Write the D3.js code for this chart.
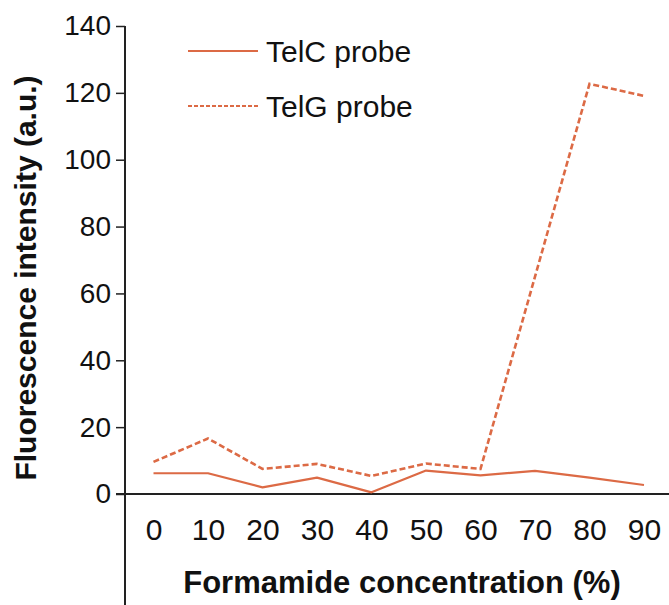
<!DOCTYPE html>
<html>
<head>
<meta charset="utf-8">
<script src="https://cdn.jsdelivr.net/npm/d3@7"></script>
<style>
  body { margin: 0; background: #fff; }
  svg { display: block; font-family: "Liberation Sans", Arial, sans-serif; }
</style>
</head>
<body>
<svg id="chart" width="669" height="605"></svg>
<script>
// formamide concentration (%)
const concentrations = [0, 10, 20, 30, 40, 50, 60, 70, 80, 90];
// fluorescence intensity (a.u.)
const telC = [6.2, 6.2, 2.0, 4.9, 0.5, 7.0, 5.6, 6.9, 4.9, 2.7];
const telG = [9.6, 16.6, 7.5, 9.0, 5.4, 9.1, 7.5, 65, 122.7, 119.1];
const yTicks = [0, 20, 40, 60, 80, 100, 120, 140];
const seriesNames = ["TelC probe", "TelG probe"];

const svg = d3.select("#chart");
const lineColor = "#dc6a45";

const x = d3.scaleLinear().domain([0, 90]).range([153.5, 644]);
const y = d3.scaleLinear().domain([0, 140]).range([494, 26]);

// y axis: ticks only, the spine is drawn by hand because it runs past the x axis
const yAxis = svg.append("g")
  .attr("transform", "translate(125,0)")
  .call(d3.axisLeft(y).tickValues(yTicks).tickSize(9).tickPadding(5));
yAxis.select(".domain").remove();
yAxis.selectAll("line").attr("stroke", "#222").attr("stroke-width", 1.5);
yAxis.selectAll("text").attr("fill", "#111").style("font-size", "28px");

svg.append("line")
  .attr("x1", 125).attr("x2", 125)
  .attr("y1", y(140)).attr("y2", 605)
  .attr("stroke", "#222").attr("stroke-width", 2);

// x axis
const xAxis = svg.append("g")
  .attr("transform", "translate(0," + y(0) + ")")
  .call(d3.axisBottom(x).tickValues(concentrations).tickSize(0).tickPadding(25));
xAxis.select(".domain").remove();
xAxis.selectAll("text").attr("fill", "#111").style("font-size", "30px");

svg.append("line")
  .attr("x1", 116).attr("x2", 669)
  .attr("y1", y(0)).attr("y2", y(0))
  .attr("stroke", "#222").attr("stroke-width", 2);

const line = d3.line()
  .x((d, i) => x(concentrations[i]))
  .y((d) => y(d));

svg.append("path").datum(telC)
  .attr("fill", "none").attr("stroke", lineColor).attr("stroke-width", 2.2)
  .attr("stroke-linejoin", "round")
  .attr("d", line);

svg.append("path").datum(telG)
  .attr("fill", "none").attr("stroke", lineColor).attr("stroke-width", 2.6)
  .attr("stroke-dasharray", "6,3")
  .attr("d", line);

// legend
const legend = svg.append("g").attr("transform", "translate(188,51)");
const entries = legend.selectAll("g").data(seriesNames).enter().append("g")
  .attr("transform", (d, i) => "translate(0," + i * 55 + ")");
entries.append("line")
  .attr("x1", 0).attr("x2", 70)
  .attr("stroke", lineColor).attr("stroke-width", (d, i) => i ? 2 : 2.2)
  .attr("stroke-dasharray", (d, i) => i ? "4,2" : null);
entries.append("text")
  .attr("x", 78).attr("dy", "0.35em")
  .style("font-size", "30px").attr("fill", "#111")
  .text((d) => d);

// axis titles
svg.append("text")
  .attr("x", 402).attr("y", 593)
  .attr("text-anchor", "middle")
  .style("font-size", "31px").style("font-weight", "bold").attr("fill", "#111")
  .text("Formamide concentration (%)");

svg.append("text")
  .attr("transform", "translate(36,278) rotate(-90)")
  .attr("text-anchor", "middle")
  .style("font-size", "30px").style("font-weight", "bold").attr("fill", "#111")
  .text("Fluorescence intensity (a.u.)");
</script>
</body>
</html>
